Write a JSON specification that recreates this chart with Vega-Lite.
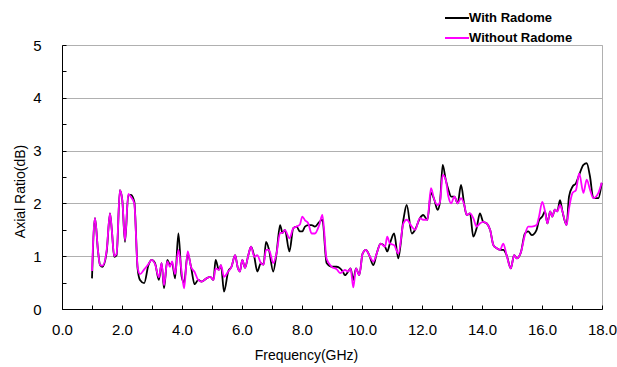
{
  "$schema": "https://vega.github.io/schema/vega-lite/v6.json",
  "width": 540,
  "height": 264,
  "autosize": "none",
  "padding": {"left": 62, "top": 45, "right": 15, "bottom": 58},
  "background": "white",
  "config": {
    "view": {"stroke": "#b0b0b0", "strokeWidth": 1},
    "font": "Liberation Sans"
  },
  "data": {"values": [
    {"f": 1.0, "With Radome": 0.58, "Without Radome": 0.72},
    {"f": 1.1, "With Radome": 1.72, "Without Radome": 1.72},
    {"f": 1.2, "With Radome": 1.1, "Without Radome": 1.1},
    {"f": 1.27, "With Radome": 0.83, "Without Radome": 0.83},
    {"f": 1.35, "With Radome": 0.8, "Without Radome": 0.82},
    {"f": 1.49, "With Radome": 1.09, "Without Radome": 1.12},
    {"f": 1.6, "With Radome": 1.81, "Without Radome": 1.81},
    {"f": 1.66, "With Radome": 1.5, "Without Radome": 1.5},
    {"f": 1.74, "With Radome": 0.99, "Without Radome": 1.0},
    {"f": 1.82, "With Radome": 1.02, "Without Radome": 1.05},
    {"f": 1.93, "With Radome": 2.25, "Without Radome": 2.25},
    {"f": 2.01, "With Radome": 2.06, "Without Radome": 2.06},
    {"f": 2.1, "With Radome": 1.27, "Without Radome": 1.3},
    {"f": 2.21, "With Radome": 2.16, "Without Radome": 2.18},
    {"f": 2.3, "With Radome": 2.16, "Without Radome": 2.12},
    {"f": 2.41, "With Radome": 2.03, "Without Radome": 2.0},
    {"f": 2.52, "With Radome": 0.77, "Without Radome": 0.8},
    {"f": 2.6, "With Radome": 0.55, "Without Radome": 0.66},
    {"f": 2.74, "With Radome": 0.49, "Without Radome": 0.75},
    {"f": 2.88, "With Radome": 0.83, "Without Radome": 0.85},
    {"f": 2.99, "With Radome": 0.93, "Without Radome": 0.93},
    {"f": 3.1, "With Radome": 0.87, "Without Radome": 0.85},
    {"f": 3.23, "With Radome": 0.55, "Without Radome": 0.6},
    {"f": 3.32, "With Radome": 0.87, "Without Radome": 0.87},
    {"f": 3.4, "With Radome": 0.39, "Without Radome": 0.45},
    {"f": 3.51, "With Radome": 0.93, "Without Radome": 0.9},
    {"f": 3.6, "With Radome": 0.84, "Without Radome": 0.8},
    {"f": 3.67, "With Radome": 0.87, "Without Radome": 0.9},
    {"f": 3.77, "With Radome": 0.58, "Without Radome": 0.66},
    {"f": 3.88, "With Radome": 1.43, "Without Radome": 1.12},
    {"f": 3.99, "With Radome": 0.61, "Without Radome": 0.7},
    {"f": 4.07, "With Radome": 0.5, "Without Radome": 0.39},
    {"f": 4.19, "With Radome": 1.05, "Without Radome": 1.09},
    {"f": 4.3, "With Radome": 0.8, "Without Radome": 0.8},
    {"f": 4.42, "With Radome": 0.47, "Without Radome": 0.7},
    {"f": 4.54, "With Radome": 0.55, "Without Radome": 0.55},
    {"f": 4.65, "With Radome": 0.52, "Without Radome": 0.52},
    {"f": 4.82, "With Radome": 0.58, "Without Radome": 0.58},
    {"f": 4.94, "With Radome": 0.61, "Without Radome": 0.61},
    {"f": 5.05, "With Radome": 0.55, "Without Radome": 0.55},
    {"f": 5.12, "With Radome": 0.93, "Without Radome": 0.77},
    {"f": 5.23, "With Radome": 0.74, "Without Radome": 0.74},
    {"f": 5.3, "With Radome": 0.83, "Without Radome": 0.83},
    {"f": 5.4, "With Radome": 0.33, "Without Radome": 0.61},
    {"f": 5.54, "With Radome": 0.71, "Without Radome": 0.71},
    {"f": 5.65, "With Radome": 0.8, "Without Radome": 0.8},
    {"f": 5.77, "With Radome": 1.02, "Without Radome": 1.02},
    {"f": 5.86, "With Radome": 0.78, "Without Radome": 0.78},
    {"f": 5.93, "With Radome": 0.71, "Without Radome": 0.71},
    {"f": 6.01, "With Radome": 0.93, "Without Radome": 0.93},
    {"f": 6.1, "With Radome": 0.78, "Without Radome": 0.78},
    {"f": 6.21, "With Radome": 1.02, "Without Radome": 1.02},
    {"f": 6.3, "With Radome": 1.18, "Without Radome": 1.18},
    {"f": 6.41, "With Radome": 0.99, "Without Radome": 0.99},
    {"f": 6.51, "With Radome": 0.71, "Without Radome": 1.02},
    {"f": 6.63, "With Radome": 0.87, "Without Radome": 0.87},
    {"f": 6.72, "With Radome": 0.84, "Without Radome": 0.84},
    {"f": 6.8, "With Radome": 1.27, "Without Radome": 1.12},
    {"f": 6.9, "With Radome": 1.12, "Without Radome": 1.12},
    {"f": 7.04, "With Radome": 0.71, "Without Radome": 0.87},
    {"f": 7.15, "With Radome": 1.05, "Without Radome": 1.05},
    {"f": 7.27, "With Radome": 1.59, "Without Radome": 1.44},
    {"f": 7.35, "With Radome": 1.44, "Without Radome": 1.44},
    {"f": 7.43, "With Radome": 1.5, "Without Radome": 1.5},
    {"f": 7.58, "With Radome": 1.09, "Without Radome": 1.34},
    {"f": 7.71, "With Radome": 1.53, "Without Radome": 1.53},
    {"f": 7.82, "With Radome": 1.56, "Without Radome": 1.56},
    {"f": 7.93, "With Radome": 1.47, "Without Radome": 1.6},
    {"f": 8.01, "With Radome": 1.47, "Without Radome": 1.75},
    {"f": 8.1, "With Radome": 1.56, "Without Radome": 1.68},
    {"f": 8.21, "With Radome": 1.59, "Without Radome": 1.62},
    {"f": 8.32, "With Radome": 1.59, "Without Radome": 1.43},
    {"f": 8.43, "With Radome": 1.56, "Without Radome": 1.43},
    {"f": 8.58, "With Radome": 1.65, "Without Radome": 1.6},
    {"f": 8.68, "With Radome": 1.69, "Without Radome": 1.78},
    {"f": 8.82, "With Radome": 0.87, "Without Radome": 0.95},
    {"f": 8.99, "With Radome": 0.8, "Without Radome": 0.8},
    {"f": 9.16, "With Radome": 0.8, "Without Radome": 0.75},
    {"f": 9.27, "With Radome": 0.77, "Without Radome": 0.68},
    {"f": 9.36, "With Radome": 0.71, "Without Radome": 0.71},
    {"f": 9.43, "With Radome": 0.64, "Without Radome": 0.74},
    {"f": 9.54, "With Radome": 0.71, "Without Radome": 0.71},
    {"f": 9.62, "With Radome": 0.77, "Without Radome": 0.77},
    {"f": 9.71, "With Radome": 0.55, "Without Radome": 0.41},
    {"f": 9.8, "With Radome": 0.77, "Without Radome": 0.77},
    {"f": 9.91, "With Radome": 0.64, "Without Radome": 0.64},
    {"f": 10.02, "With Radome": 1.05, "Without Radome": 1.05},
    {"f": 10.13, "With Radome": 1.12, "Without Radome": 1.12},
    {"f": 10.24, "With Radome": 1.02, "Without Radome": 1.02},
    {"f": 10.38, "With Radome": 0.83, "Without Radome": 0.9},
    {"f": 10.49, "With Radome": 1.05, "Without Radome": 1.05},
    {"f": 10.62, "With Radome": 1.24, "Without Radome": 1.24},
    {"f": 10.77, "With Radome": 1.18, "Without Radome": 1.18},
    {"f": 10.84, "With Radome": 1.09, "Without Radome": 1.37},
    {"f": 10.93, "With Radome": 1.24, "Without Radome": 1.24},
    {"f": 11.07, "With Radome": 1.43, "Without Radome": 1.21},
    {"f": 11.21, "With Radome": 0.96, "Without Radome": 1.05},
    {"f": 11.38, "With Radome": 1.69, "Without Radome": 1.62},
    {"f": 11.49, "With Radome": 1.97, "Without Radome": 1.69},
    {"f": 11.66, "With Radome": 1.43, "Without Radome": 1.56},
    {"f": 11.77, "With Radome": 1.5, "Without Radome": 1.5},
    {"f": 11.93, "With Radome": 1.72, "Without Radome": 1.72},
    {"f": 12.04, "With Radome": 1.78, "Without Radome": 1.69},
    {"f": 12.18, "With Radome": 1.69, "Without Radome": 1.69},
    {"f": 12.3, "With Radome": 2.2, "Without Radome": 2.29},
    {"f": 12.41, "With Radome": 2.07, "Without Radome": 2.07},
    {"f": 12.52, "With Radome": 1.88, "Without Radome": 1.97},
    {"f": 12.6, "With Radome": 2.03, "Without Radome": 2.03},
    {"f": 12.69, "With Radome": 2.73, "Without Radome": 2.54},
    {"f": 12.79, "With Radome": 2.45, "Without Radome": 2.45},
    {"f": 12.88, "With Radome": 2.26, "Without Radome": 2.13},
    {"f": 12.97, "With Radome": 2.13, "Without Radome": 2.0},
    {"f": 13.08, "With Radome": 2.13, "Without Radome": 2.13},
    {"f": 13.19, "With Radome": 2.0, "Without Radome": 2.0},
    {"f": 13.3, "With Radome": 2.35, "Without Radome": 2.1},
    {"f": 13.41, "With Radome": 1.97, "Without Radome": 1.97},
    {"f": 13.49, "With Radome": 1.78, "Without Radome": 1.78},
    {"f": 13.6, "With Radome": 1.81, "Without Radome": 1.81},
    {"f": 13.71, "With Radome": 1.37, "Without Radome": 1.72},
    {"f": 13.82, "With Radome": 1.53, "Without Radome": 1.56},
    {"f": 13.93, "With Radome": 1.81, "Without Radome": 1.62},
    {"f": 14.04, "With Radome": 1.65, "Without Radome": 1.65},
    {"f": 14.16, "With Radome": 1.62, "Without Radome": 1.62},
    {"f": 14.27, "With Radome": 1.5, "Without Radome": 1.5},
    {"f": 14.38, "With Radome": 1.21, "Without Radome": 1.21},
    {"f": 14.49, "With Radome": 1.15, "Without Radome": 1.15},
    {"f": 14.6, "With Radome": 1.12, "Without Radome": 1.12},
    {"f": 14.71, "With Radome": 1.12, "Without Radome": 1.24},
    {"f": 14.82, "With Radome": 1.02, "Without Radome": 1.02},
    {"f": 14.96, "With Radome": 0.77, "Without Radome": 0.77},
    {"f": 15.07, "With Radome": 1.02, "Without Radome": 1.02},
    {"f": 15.16, "With Radome": 0.96, "Without Radome": 0.96},
    {"f": 15.3, "With Radome": 1.08, "Without Radome": 1.08},
    {"f": 15.43, "With Radome": 1.43, "Without Radome": 1.4},
    {"f": 15.54, "With Radome": 1.47, "Without Radome": 1.56},
    {"f": 15.66, "With Radome": 1.4, "Without Radome": 1.56},
    {"f": 15.82, "With Radome": 1.5, "Without Radome": 1.59},
    {"f": 15.9, "With Radome": 1.68, "Without Radome": 1.75},
    {"f": 16.01, "With Radome": 1.75, "Without Radome": 2.03},
    {"f": 16.1, "With Radome": 1.85, "Without Radome": 1.85},
    {"f": 16.18, "With Radome": 1.62, "Without Radome": 1.62},
    {"f": 16.27, "With Radome": 1.85, "Without Radome": 1.85},
    {"f": 16.34, "With Radome": 1.75, "Without Radome": 1.75},
    {"f": 16.43, "With Radome": 1.88, "Without Radome": 1.88},
    {"f": 16.51, "With Radome": 1.85, "Without Radome": 1.85},
    {"f": 16.6, "With Radome": 2.06, "Without Radome": 1.97},
    {"f": 16.68, "With Radome": 1.85, "Without Radome": 1.85},
    {"f": 16.82, "With Radome": 1.59, "Without Radome": 1.59},
    {"f": 16.9, "With Radome": 2.13, "Without Radome": 1.9},
    {"f": 17.02, "With Radome": 2.32, "Without Radome": 2.2},
    {"f": 17.13, "With Radome": 2.38, "Without Radome": 2.25},
    {"f": 17.24, "With Radome": 2.54, "Without Radome": 2.57},
    {"f": 17.38, "With Radome": 2.73, "Without Radome": 2.2},
    {"f": 17.49, "With Radome": 2.76, "Without Radome": 2.45},
    {"f": 17.6, "With Radome": 2.51, "Without Radome": 2.26},
    {"f": 17.71, "With Radome": 2.1, "Without Radome": 2.1},
    {"f": 17.88, "With Radome": 2.1, "Without Radome": 2.2},
    {"f": 17.99, "With Radome": 2.39, "Without Radome": 2.39}
  ]},
  "transform": [{"fold": ["With Radome", "Without Radome"], "as": ["series", "ar"]}],
  "mark": {"type": "line", "interpolate": "monotone", "strokeWidth": 1.8},
  "encoding": {
    "x": {
      "field": "f", "type": "quantitative",
      "scale": {"domain": [0, 18], "nice": false, "zero": false},
      "axis": {
        "values": [0,1,2,3,4,5,6,7,8,9,10,11,12,13,14,15,16,17,18],
        "labelExpr": "datum.value % 2 === 0 ? format(datum.value, '.1f') : ''",
        "grid": false,
        "domainColor": "#000000", "tickColor": "#000000",
        "tickSize": -4,
        "labelFontSize": 15, "labelColor": "#000000", "labelPadding": 17,
        "labelOverlap": false, "labelFlush": false,
        "title": "Frequency(GHz)", "titleFontSize": 14, "titleFontWeight": "normal",
        "titleColor": "#000000", "titleX": 244, "titleY": 46,
        "titleBaseline": "middle", "titleAlign": "center"
      }
    },
    "y": {
      "field": "ar", "type": "quantitative",
      "scale": {"domain": [0, 5], "nice": false},
      "axis": {
        "values": [0,0.5,1,1.5,2,2.5,3,3.5,4,4.5,5],
        "labelExpr": "datum.value % 1 === 0 ? format(datum.value, 'd') : ''",
        "grid": true, "gridColor": "#b0b0b0",
        "gridOpacity": {"condition": {"test": "datum.value % 1 === 0", "value": 1}, "value": 0},
        "domainColor": "#000000", "tickColor": "#000000",
        "tickSize": -4,
        "labelFontSize": 15, "labelColor": "#000000", "labelPadding": 25,
        "labelOverlap": false, "labelFlush": false,
        "title": "Axial Ratio(dB)", "titleFontSize": 14, "titleFontWeight": "normal",
        "titleColor": "#000000", "titleX": -42, "titleY": 146,
        "titleBaseline": "middle", "titleAlign": "center", "titleAngle": -90
      }
    },
    "color": {
      "field": "series", "type": "nominal",
      "scale": {"domain": ["With Radome", "Without Radome"], "range": ["#000000", "#ff00ff"]},
      "legend": {
        "orient": "none", "legendX": 382, "legendY": -40,
        "title": null, "padding": 0,
        "symbolType": "stroke", "symbolSize": 576, "symbolStrokeWidth": 2,
        "labelFontSize": 13, "labelFontWeight": "bold", "labelColor": "#000000",
        "labelOffset": -1, "rowPadding": -3
      }
    }
  }
}
